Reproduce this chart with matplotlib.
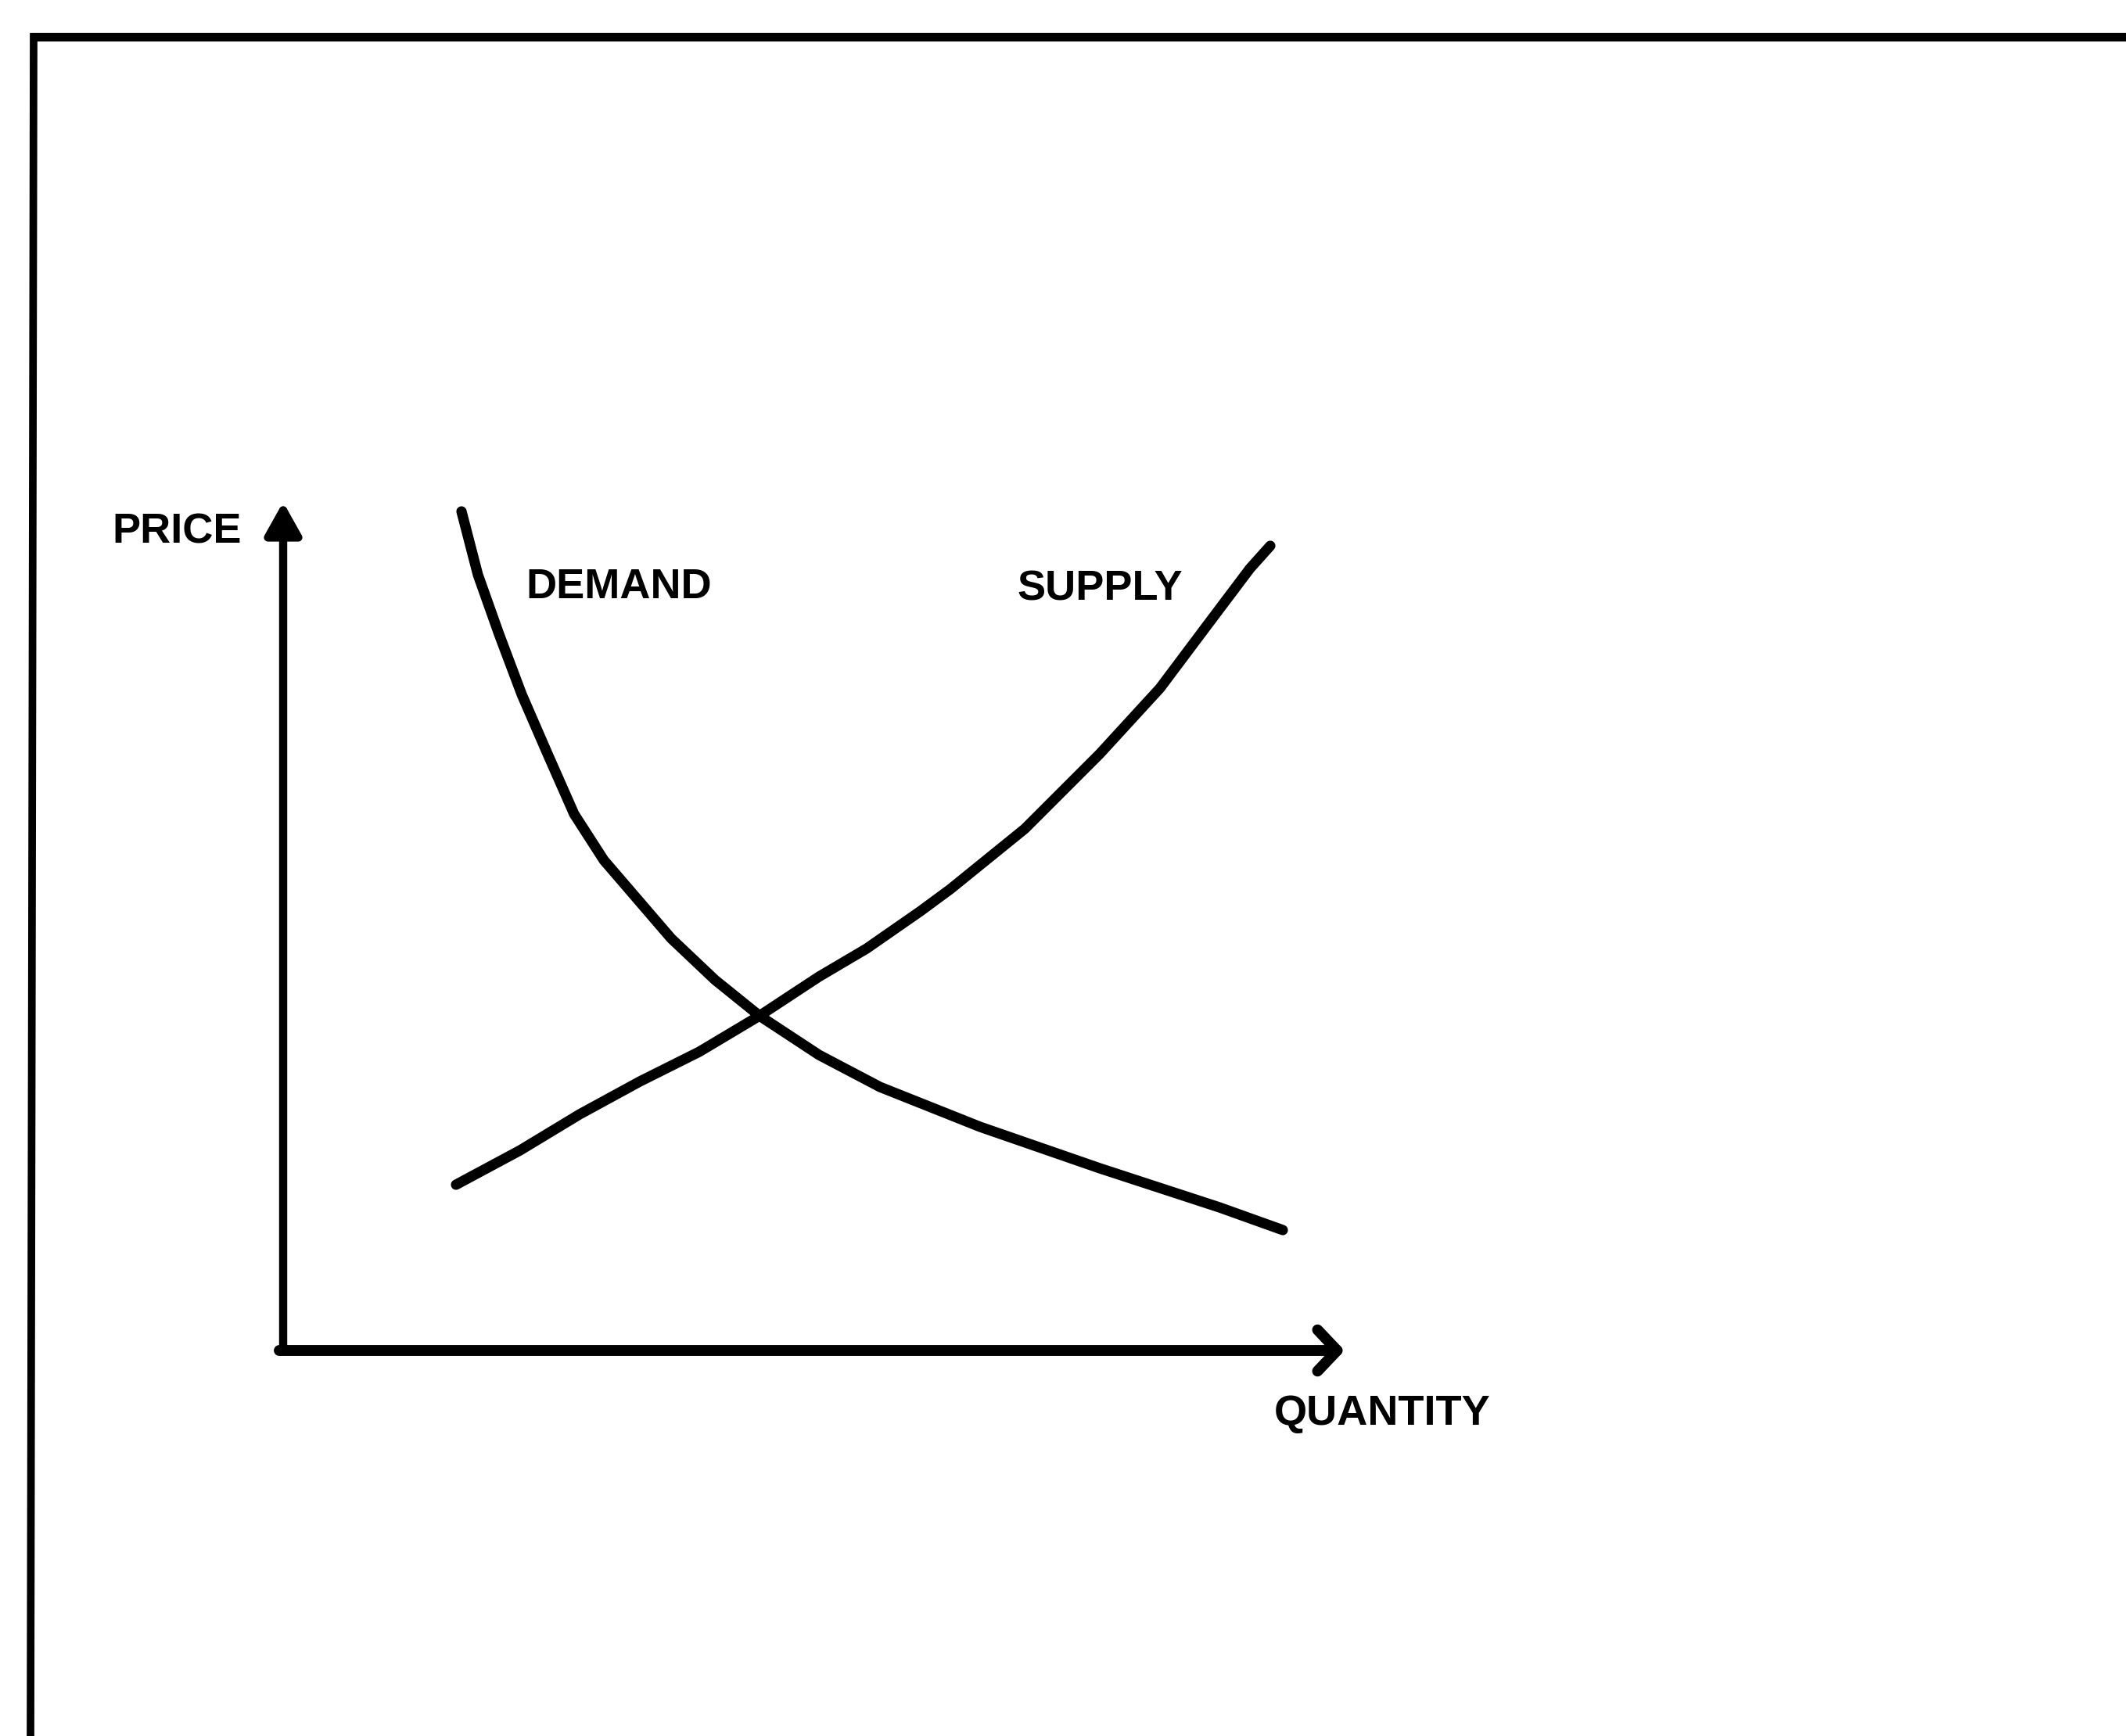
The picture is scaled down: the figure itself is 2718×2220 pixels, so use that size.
import matplotlib
matplotlib.use("Agg")
import matplotlib.pyplot as plt

# axis units: 1 unit of quantity / price = 100 px in the 2718x2220 picture
demand_q = [2.28, 2.49, 2.76, 3.05, 3.38, 3.72, 4.10, 4.53, 4.96, 5.52, 6.09,
            6.85, 7.63, 8.91, 10.44, 11.97, 12.78]
demand_p = [10.73, 9.92, 9.16, 8.39, 7.63, 6.86, 6.27, 5.77, 5.27, 4.74, 4.28,
            3.78, 3.37, 2.86, 2.33, 1.83, 1.54]

supply_q = [2.21, 3.03, 3.79, 4.56, 5.32, 6.09, 6.85, 7.46, 8.15, 8.53, 9.48,
            10.44, 11.21, 11.78, 12.36, 12.62]
supply_p = [2.12, 2.56, 3.02, 3.44, 3.82, 4.28, 4.78, 5.14, 5.62, 5.90, 6.67,
            7.63, 8.47, 9.23, 10.00, 10.29]

labels = ["PRICE", "DEMAND", "SUPPLY", "QUANTITY"]
label_x = [-2.19, 3.10, 9.38, 12.67]
label_y = [10.32, 9.62, 9.60, -0.95]

fig = plt.figure(figsize=(27.18, 22.2), dpi=100)
ax = fig.add_axes([0, 0, 1, 1])
ax.set_xlim(-3.62, 23.56)
ax.set_ylim(-4.93, 17.27)
ax.axis("off")

# frame (top and left edges only)
ax.plot([-3.22, 23.56], [16.80, 16.80], color="black", lw=8, solid_capstyle="butt")
ax.plot([-3.19, -3.23], [16.85, -4.93], color="black", lw=7, solid_capstyle="butt")

# axes with arrows
ax.annotate("", xy=(0, 10.85), xytext=(0, 0),
            arrowprops=dict(arrowstyle="-|>,head_length=2.5,head_width=1.4",
                            mutation_scale=10, lw=7.5, color="black",
                            shrinkA=0, shrinkB=0))
ax.annotate("", xy=(13.57, 0), xytext=(-0.05, 0),
            arrowprops=dict(arrowstyle="->,head_length=1.8,head_width=1.9",
                            mutation_scale=10, lw=10, color="black",
                            shrinkA=0, shrinkB=0))

ax.plot(demand_q, demand_p, color="black", lw=9.5, solid_capstyle="round",
        solid_joinstyle="round")
ax.plot(supply_q, supply_p, color="black", lw=9.5, solid_capstyle="round",
        solid_joinstyle="round")

for txt, x, y in zip(labels, label_x, label_y):
    ax.text(x, y, txt, ha="left", va="baseline", fontsize=39, fontweight="bold",
            family="Liberation Sans")

fig.savefig("out.png", dpi=100, facecolor="white")
